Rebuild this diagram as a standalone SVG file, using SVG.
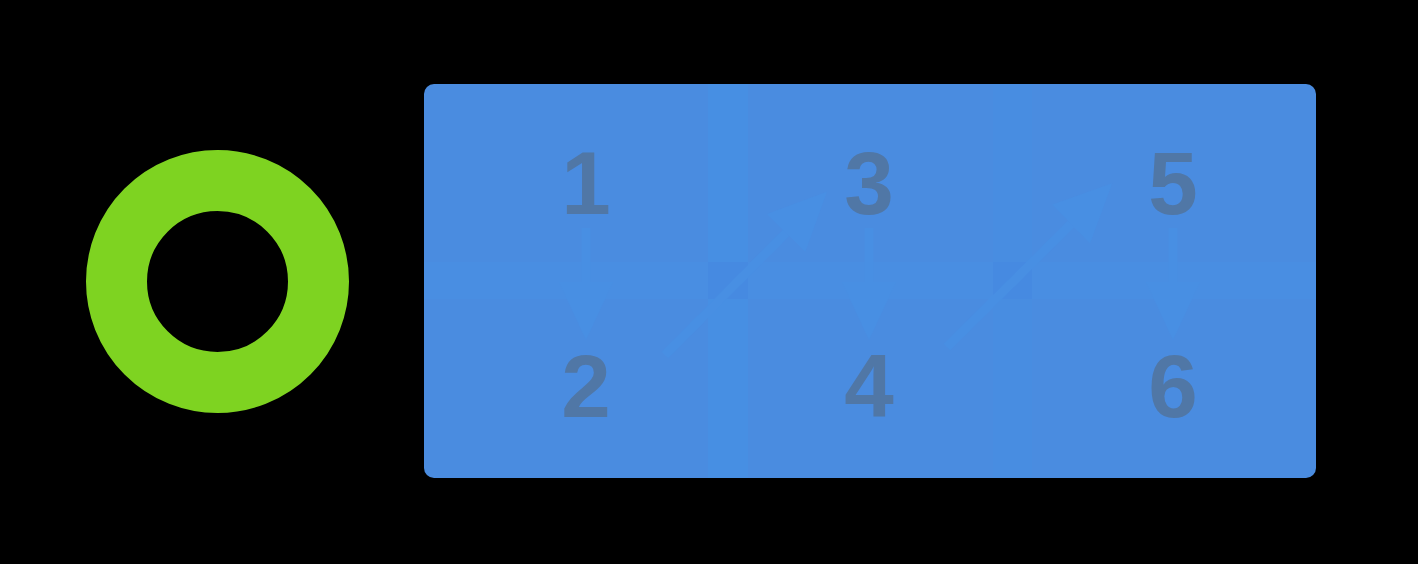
<svg xmlns="http://www.w3.org/2000/svg" width="1418" height="564" viewBox="0 0 1418 564">
  <style>
    .num { font-family: "Liberation Sans", Arial, sans-serif; font-weight: bold; font-size: 89px; fill: #5077A6; text-anchor: middle; }
    .edge { stroke: #488FE3; stroke-width: 9; fill: none; }
    .hband { fill: #498EE2; }
    .vband { fill: #478FE3; }
    .cross { fill: #468AE1; }
  </style>
  <defs>
    <marker id="head" markerUnits="userSpaceOnUse" markerWidth="60" markerHeight="54" refX="0" refY="27" orient="auto" viewBox="0 0 60 54">
      <path d="M0,0 L58,27 L0,54 Z" fill="#488FE3"/>
    </marker>
  </defs>
  <rect x="0" y="0" width="1418" height="564" fill="#000000"/>
  <g id="ring">
    <circle cx="217.5" cy="281.5" r="101" fill="none" stroke="#7ED321" stroke-width="61"/>
  </g>
  <g id="container">
    <rect x="424" y="84" width="892" height="394" rx="10" ry="10" fill="#4A8CE0"/>
    <rect class="hband" x="424" y="262" width="892" height="37"/>
    <rect class="vband" x="708" y="84" width="40" height="394"/>
    <rect class="vband" x="993" y="84" width="39" height="394" opacity="0.4"/>
    <rect class="cross" x="708" y="262" width="40" height="37"/>
    <rect class="cross" x="993" y="262" width="39" height="37"/>
  </g>
  <g id="connectors">
    <line class="edge" x1="586" y1="228" x2="586" y2="282" marker-end="url(#head)"/>
    <line class="edge" x1="869" y1="228" x2="869" y2="282" marker-end="url(#head)"/>
    <line class="edge" x1="1173" y1="228" x2="1173" y2="282" marker-end="url(#head)"/>
    <line class="edge" x1="665" y1="355" x2="786" y2="233" marker-end="url(#head)"/>
    <line class="edge" x1="947" y1="347" x2="1071" y2="224" marker-end="url(#head)"/>
  </g>
  <g id="node-1"><text class="num" x="586" y="214">1</text></g>
  <g id="node-2"><text class="num" x="586" y="417">2</text></g>
  <g id="node-3"><text class="num" x="869" y="214">3</text></g>
  <g id="node-4"><text class="num" x="869" y="417">4</text></g>
  <g id="node-5"><text class="num" x="1173" y="214">5</text></g>
  <g id="node-6"><text class="num" x="1173" y="417">6</text></g>
</svg>
